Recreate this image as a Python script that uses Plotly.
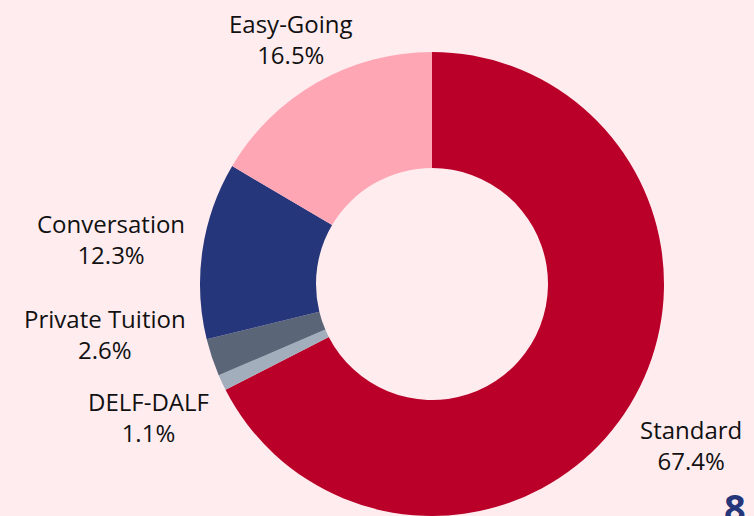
# Donut chart - course types

import plotly.graph_objects as go

# Dados
cursos = ['Standard', 'DELF-DALF', 'Private Tuition', 'Conversation', 'Easy-Going']
percentuais = [67.4, 1.1, 2.6, 12.3, 16.5]
cores = ['#BA0029', '#A3AEBD', '#5A6577', '#26367A', '#FFA6B5']

# Posição dos rótulos (pixels, a partir do canto superior esquerdo)
pos_rotulos = [(691, 445), (148, 417), (105, 334), (111, 239), (291, 39)]

fundo = '#FFECEF'
W, H = 754, 516

# Cria a figura
fig = go.Figure(go.Pie(labels = cursos,
                       values = percentuais,
                       hole = 0.5,
                       sort = False,
                       direction = 'clockwise',
                       rotation = 0,
                       marker = dict(colors = cores, line = dict(width = 0)),
                       textinfo = 'none',
                       hoverinfo = 'label+percent',
                       domain = dict(x = [0.2639, 0.882], y = [0.0, 0.8992]),
                       showlegend = False))

# Rótulos fora da rosca
for curso, pct, (px_, py_) in zip(cursos, percentuais, pos_rotulos):
    fig.add_annotation(text = f'{curso}<br>{pct}%',
                       x = px_ / W, y = 1 - py_ / H,
                       xref = 'paper', yref = 'paper',
                       xanchor = 'center', yanchor = 'middle',
                       showarrow = False,
                       font = dict(size = 24, color = '#111111'))

# Logo cortado no canto
fig.add_annotation(text = '<b>8</b>', x = 735 / W, y = 1 - 479 / H,
                   xref = 'paper', yref = 'paper',
                   xanchor = 'center', yanchor = 'top',
                   showarrow = False,
                   font = dict(size = 38, color = '#26367A'))

# Layout
fig.update_layout(width = W, height = H,
                  margin = dict(l = 0, r = 0, t = 0, b = 0),
                  paper_bgcolor = fundo,
                  plot_bgcolor = fundo,
                  font = dict(family = 'Open Sans', size = 24, color = '#111111'))

fig.write_html("out.html",
               config = {'displayModeBar': False},
               post_script = "document.body.style.margin = '0';")
